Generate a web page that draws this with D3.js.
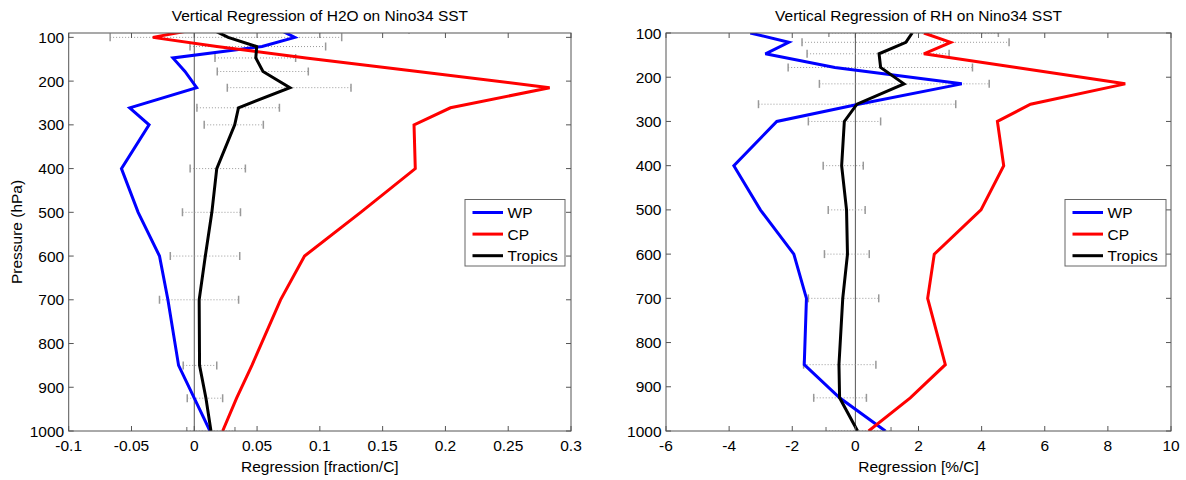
<!DOCTYPE html>
<html><head><meta charset="utf-8">
<script src="https://cdn.jsdelivr.net/npm/d3@7"></script>
<style>
body{margin:0;background:#fff;}
svg{display:block;font-family:"Liberation Sans",Arial,Helvetica,sans-serif;}
</style></head>
<body><svg id="chart" width="1186" height="480"></svg>
<script>
// ---------------- DATA ----------------
const seriesNames = ["WP", "CP", "Tropics"];

// Left panel: H2O regression [fraction/C]
const levelsH2O = [82.5, 100, 121, 147, 178, 215, 261, 300, 400, 500, 600, 700, 850, 925, 1000];
const h2oWP      = [0.068, 0.080, 0.054, -0.017, -0.0074, 0.0019, -0.0514, -0.036, -0.058, -0.0447, -0.0277, -0.021, -0.0125, 0.0, 0.0125];
const h2oCP      = [0.0, -0.033, 0.018, 0.089, 0.178, 0.283, 0.204, 0.175, 0.176, 0.1325, 0.0878, 0.0687, 0.0459, 0.0337, 0.0226];
const h2oTropics = [0.0146, 0.027, 0.0497, 0.049, 0.0547, 0.0762, 0.0352, 0.0322, 0.0179, 0.014, 0.0088, 0.0039, 0.0042, 0.0093, 0.0133];
const h2oErrLo   = [-0.142, -0.067, -0.0034, 0.0165, 0.0183, 0.0263, 0.0021, 0.0079, -0.0033, -0.0094, -0.0191, -0.0277, -0.0088, -0.0056, -0.006];
const h2oErrHi   = [0.171, 0.1174, 0.1046, 0.0807, 0.0908, 0.1248, 0.0678, 0.055, 0.0407, 0.0368, 0.0362, 0.0353, 0.0179, 0.0226, 0.0324];
const h2oXTicks  = [-0.1, -0.05, 0, 0.05, 0.1, 0.15, 0.2, 0.25, 0.3];
const h2oXTickLabels = ["-0.1", "-0.05", "0", "0.05", "0.1", "0.15", "0.2", "0.25", "0.3"];

// Right panel: RH regression [%/C]
const levelsRH = [100, 121, 147, 178, 215, 261, 300, 400, 500, 600, 700, 850, 925, 1000];
const rhWP      = [-3.33, -2.11, -2.85, -0.65, 3.37, 0.1, -2.49, -3.85, -3.01, -1.95, -1.55, -1.62, -0.5, 0.95];
const rhCP      = [2.17, 3.02, 2.17, 5.1, 8.55, 5.55, 4.5, 4.70, 3.98, 2.50, 2.29, 2.85, 1.74, 0.42];
const rhTropics = [1.8, 1.6, 0.75, 0.8, 1.54, 0.05, -0.35, -0.435, -0.28, -0.25, -0.40, -0.52, -0.5, 0.07];
const rhErrLo   = [-0.84, -1.69, -1.53, -2.13, -1.14, -3.07, -1.49, -1.02, -0.86, -0.98, -1.49, -1.64, -1.32, -0.93];
const rhErrHi   = [4.53, 4.87, 2.97, 3.71, 4.24, 3.18, 0.80, 0.25, 0.31, 0.44, 0.74, 0.65, 0.35, 1.13];
const rhXTicks  = [-6, -4, -2, 0, 2, 4, 6, 8, 10];
const rhXTickLabels = ["-6", "-4", "-2", "0", "2", "4", "6", "8", "10"];

const yTicks = [100, 200, 300, 400, 500, 600, 700, 800, 900, 1000];
const yTickLabels = ["100", "200", "300", "400", "500", "600", "700", "800", "900", "1000"];

const titles = ["Vertical Regression of H2O on Nino34 SST", "Vertical Regression of RH on Nino34 SST"];
const xLabels = ["Regression [fraction/C]", "Regression [%/C]"];
const yLabel = "Pressure (hPa)";
const colors = ["#0000ff", "#ff0000", "#000000"];

// ---------------- DRAW ----------------
const svg = d3.select("#chart");
const FS = 15.5;

function panel(cfg, idx) {
  const {x0, x1, y0, y1} = cfg;
  const x = d3.scaleLinear().domain(cfg.xDomain).range([x0, x1]);
  const y = d3.scaleLinear().domain(cfg.yDomain).range([y0, y1]);
  const g = svg.append("g");
  const clipId = "clip" + idx;
  g.append("clipPath").attr("id", clipId).append("rect")
    .attr("x", x0).attr("y", y0).attr("width", x1 - x0).attr("height", y1 - y0);
  const pg = g.append("g").attr("clip-path", `url(#${clipId})`);

  // zero line
  pg.append("line").attr("x1", x(0)).attr("x2", x(0)).attr("y1", y0).attr("y2", y1)
    .attr("stroke", "#555").attr("stroke-width", 1);

  // error bars
  const eb = cfg.levels.map((p, i) => ({p, lo: cfg.errLo[i], hi: cfg.errHi[i]}));
  pg.selectAll(".eb").data(eb).enter().append("line")
    .attr("x1", d => x(d.lo)).attr("x2", d => x(d.hi))
    .attr("y1", d => y(d.p)).attr("y2", d => y(d.p))
    .attr("stroke", "#999").attr("stroke-width", 1).attr("stroke-dasharray", "1,2");
  ["lo", "hi"].forEach(k => {
    pg.selectAll(".cap" + k).data(eb).enter().append("line")
      .attr("x1", d => x(d[k])).attr("x2", d => x(d[k]))
      .attr("y1", d => y(d.p) - 4).attr("y2", d => y(d.p) + 4)
      .attr("stroke", "#999").attr("stroke-width", 1.5);
  });

  // series lines
  const line = d3.line().x(d => x(d.v)).y(d => y(d.p));
  cfg.series.forEach((vals, si) => {
    const pts = cfg.levels.map((p, i) => ({p, v: vals[i]}));
    pg.append("path").datum(pts).attr("d", line)
      .attr("fill", "none").attr("stroke", colors[si]).attr("stroke-width", 3)
      .attr("stroke-linejoin", "miter").attr("stroke-miterlimit", 3);
  });

  // box + ticks
  const ax = g.append("g").attr("stroke", "#555").attr("stroke-width", 1);
  ax.append("rect").attr("x", x0).attr("y", y0).attr("width", x1 - x0).attr("height", y1 - y0)
    .attr("fill", "none");
  cfg.xTicks.forEach(t => {
    ax.append("line").attr("x1", x(t)).attr("x2", x(t)).attr("y1", y1).attr("y2", y1 - 5);
    ax.append("line").attr("x1", x(t)).attr("x2", x(t)).attr("y1", y0).attr("y2", y0 + 5);
  });
  yTicks.forEach(t => {
    ax.append("line").attr("x1", x0).attr("x2", x0 + 5).attr("y1", y(t)).attr("y2", y(t));
    ax.append("line").attr("x1", x1).attr("x2", x1 - 5).attr("y1", y(t)).attr("y2", y(t));
  });

  // tick labels
  cfg.xTicks.forEach((t, i) => {
    g.append("text").attr("x", x(t)).attr("y", y1 + 20).attr("text-anchor", "middle")
      .attr("font-size", FS).text(cfg.xTickLabels[i]);
  });
  yTicks.forEach((t, i) => {
    g.append("text").attr("x", x0 - 4.5).attr("y", y(t) + 5.5).attr("text-anchor", "end")
      .attr("font-size", FS).text(yTickLabels[i]);
  });

  // title and labels
  g.append("text").attr("x", (x0 + x1) / 2).attr("y", 21).attr("text-anchor", "middle")
    .attr("font-size", FS).text(cfg.title);
  g.append("text").attr("x", (x0 + x1) / 2).attr("y", 472).attr("text-anchor", "middle")
    .attr("font-size", FS).text(cfg.xLabel);
  if (cfg.yLabel) {
    g.append("text").attr("transform", `translate(22,${(y0 + y1) / 2}) rotate(-90)`)
      .attr("text-anchor", "middle").attr("font-size", FS).text(cfg.yLabel);
  }

  // legend
  const L = cfg.legend;
  const lg = g.append("g");
  lg.append("rect").attr("x", L.x).attr("y", L.y).attr("width", L.w).attr("height", L.h)
    .attr("fill", "#fff").attr("stroke", "#666").attr("stroke-width", 1);
  seriesNames.forEach((n, i) => {
    const ry = L.y + 13 + i * 21.6;
    lg.append("line").attr("x1", L.x + 7.5).attr("x2", L.x + 38).attr("y1", ry).attr("y2", ry)
      .attr("stroke", colors[i]).attr("stroke-width", 3);
    lg.append("text").attr("x", L.x + 42.5).attr("y", ry + 5.5).attr("font-size", FS).text(n);
  });
}

panel({
  x0: 68.7, x1: 571, y0: 33, y1: 431,
  xDomain: [-0.1, 0.3], yDomain: [90, 1000],
  levels: levelsH2O, series: [h2oWP, h2oCP, h2oTropics],
  errLo: h2oErrLo, errHi: h2oErrHi,
  xTicks: h2oXTicks, xTickLabels: h2oXTickLabels,
  title: titles[0], xLabel: xLabels[0], yLabel: yLabel,
  legend: {x: 465, y: 199.5, w: 100, h: 66.5}
}, 0);

panel({
  x0: 666, x1: 1171, y0: 33, y1: 431,
  xDomain: [-6, 10], yDomain: [100, 1000],
  levels: levelsRH, series: [rhWP, rhCP, rhTropics],
  errLo: rhErrLo, errHi: rhErrHi,
  xTicks: rhXTicks, xTickLabels: rhXTickLabels,
  title: titles[1], xLabel: xLabels[1], yLabel: null,
  legend: {x: 1065, y: 199.5, w: 101, h: 66.5}
}, 1);
</script>
</body></html>
